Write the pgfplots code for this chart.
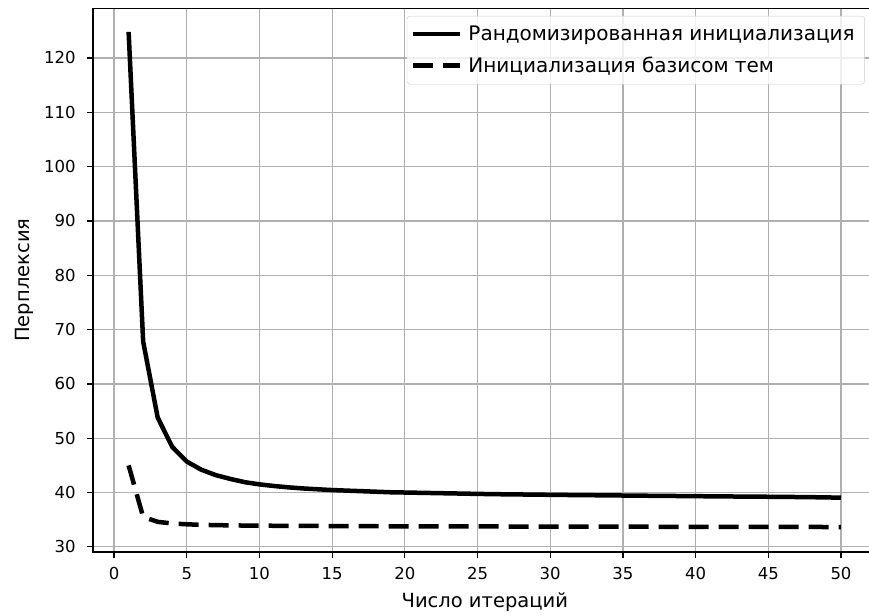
\documentclass[border=0pt]{standalone}
\usepackage{fontspec}
\setmainfont{DejaVu Sans}
\usepackage{pgfplots}
\usepackage{pgfplotstable}
\pgfplotsset{compat=1.18}

\pgfplotstableread{
x y
1 124.8
2 67.8
3 53.8
4 48.4
5 45.7
6 44.2
7 43.2
8 42.5
9 41.9
10 41.5
11 41.2
12 40.95
13 40.75
14 40.6
15 40.45
16 40.35
17 40.25
18 40.15
19 40.05
20 40.0
21 39.95
22 39.9
23 39.85
24 39.8
25 39.75
26 39.7
27 39.67
28 39.64
29 39.61
30 39.58
31 39.55
32 39.52
33 39.5
34 39.47
35 39.45
36 39.42
37 39.4
38 39.38
39 39.35
40 39.33
41 39.3
42 39.28
43 39.26
44 39.24
45 39.22
46 39.2
47 39.17
48 39.14
49 39.1
50 39.05
}\randinit

\pgfplotstableread{
x y
1 45.0
2 35.5
3 34.6
4 34.3
5 34.15
6 34.05
7 34.0
8 33.95
9 33.92
10 33.9
11 33.88
12 33.86
13 33.85
14 33.84
15 33.83
16 33.82
17 33.81
18 33.8
19 33.79
20 33.78
21 33.77
22 33.77
23 33.76
24 33.76
25 33.75
26 33.75
27 33.74
28 33.74
29 33.73
30 33.73
31 33.72
32 33.72
33 33.71
34 33.71
35 33.7
36 33.7
37 33.7
38 33.69
39 33.69
40 33.68
41 33.68
42 33.68
43 33.67
44 33.67
45 33.67
46 33.66
47 33.66
48 33.66
49 33.65
50 33.65
}\topicinit

\begin{document}
\begin{tikzpicture}
\begin{axis}[
  at={(0,0)}, anchor=south west,
  scale only axis, width=783.6pt, height=543.7pt,
  xmin=-1.45, xmax=52.45, ymin=29.05, ymax=129.15,
  xtick={0,5,...,50}, ytick={30,40,...,120},
  grid=major, grid style={color=black!31, line width=1.3pt},
  axis line style={line width=1.3pt},
  tick style={black, line width=1.3pt},
  tick align=outside, tick pos=left, major tick length=5.8pt,
  ticklabel style={font=\fontsize{16.5}{19}\selectfont, text=black},
  xticklabel shift=6pt, yticklabel shift=8pt,
  /pgf/number format/assume math mode=true,
  xlabel={Число итераций}, ylabel={Перплексия},
  label style={font=\fontsize{19.5}{22}\selectfont},
  xlabel shift=6pt, ylabel shift=4pt,
  legend cell align=left,
  legend style={at={(0.985,0.986)}, anchor=north east,
    draw=black!20, rounded corners=3pt, fill=white, fill opacity=0.8, text opacity=1,
    font=\fontsize{20}{24}\selectfont, inner xsep=4pt, inner ysep=8pt,
    row sep=11pt,
    nodes={inner xsep=6pt}},
  legend image code/.code={\draw[#1] (0pt,0pt) -- (47pt,0pt);},
]
\addplot[black, line width=4.5pt, line join=round] table[x=x,y=y] {\randinit};
\addlegendentry{Рандомизированная инициализация}
\addplot[black, line width=4.5pt, dash pattern=on 20pt off 10pt] table[x=x,y=y] {\topicinit};
\addlegendentry{Инициализация базисом тем}
\end{axis}
\pgfresetboundingbox
\useasboundingbox (-93pt,-63pt) rectangle (776pt,552pt);
\end{tikzpicture}
\end{document}
